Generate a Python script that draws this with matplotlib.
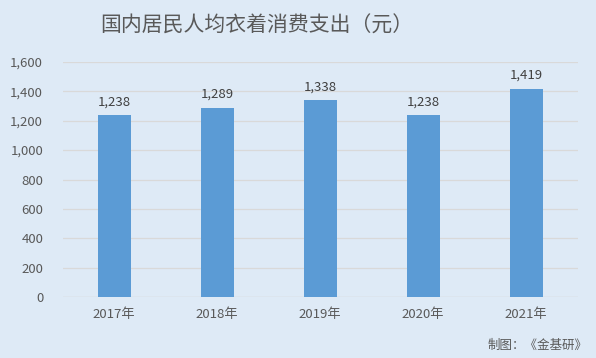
import matplotlib.pyplot as plt
from matplotlib.ticker import FuncFormatter

plt.rcParams['font.family'] = ['Noto Sans CJK SC', 'DejaVu Sans']

years = ['2017年', '2018年', '2019年', '2020年', '2021年']
values = [1238, 1289, 1338, 1238, 1419]

bg = '#DEEAF6'
fig = plt.figure(figsize=(5.96, 3.58), dpi=100, facecolor=bg)
ax = fig.add_axes([0.105, 0.170, 0.864, 0.657], facecolor=bg)

x = range(len(years))
bars = ax.bar(x, values, width=0.32, color='#5B9BD5', zorder=3)
for xi, v in zip(x, values):
    ax.text(xi, v + 45, f'{v:,}', ha='center', va='bottom', fontsize=9.5, color='#404040')

ax.set_ylim(0, 1600)
ax.set_yticks(range(0, 1601, 200))
ax.yaxis.set_major_formatter(FuncFormatter(lambda v, p: f'{int(v):,}'))
ax.set_xlim(-0.5, 4.5)
ax.set_xticks(list(x))
ax.set_xticklabels(years)
ax.grid(axis='y', color='#D9D9D9', linewidth=0.9, zorder=0)
ax.tick_params(axis='both', length=0, labelsize=9.5, colors='#595959')
ax.tick_params(axis='x', pad=8)
ax.tick_params(axis='y', pad=14)
for s in ax.spines.values():
    s.set_visible(False)
ax.axhline(0, color='#D9D9D9', linewidth=0.9, zorder=2)

fig.text(0.43, 0.927, '国内居民人均衣着消费支出（元）', ha='center', va='center',
         fontsize=15, color='#595959')
fig.text(0.985, 0.035, '制图：《金基研》', ha='right', va='center', fontsize=9, color='#595959')

fig.savefig('out.png', dpi=100, facecolor=bg)
